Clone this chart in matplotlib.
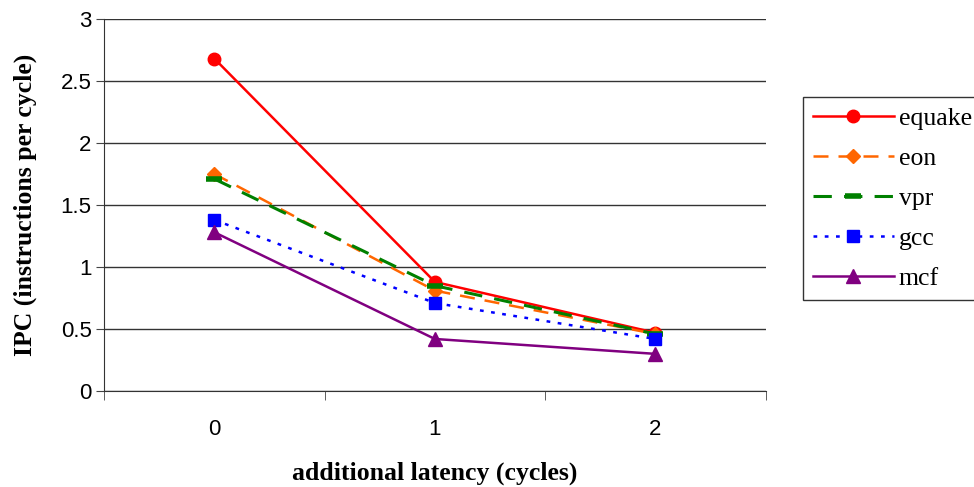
import matplotlib.pyplot as plt

latency = [0, 1, 2]
equake = [2.68, 0.88, 0.47]
eon = [1.75, 0.81, 0.46]
vpr = [1.71, 0.85, 0.46]
gcc = [1.38, 0.71, 0.42]
mcf = [1.28, 0.42, 0.30]

fig = plt.figure(figsize=(9.74, 4.87), dpi=100)
ax = fig.add_axes([0.107, 0.197, 0.679, 0.764])

ax.plot(latency, equake, color="red", lw=1.8, marker="o", ms=9, label="equake")
ax.plot(latency, eon, color="#ff6600", lw=1.8, ls=(0, (6, 4)), marker="D", ms=7, label="eon")
ax.plot(latency, vpr, color="green", lw=2.2, ls=(0, (6, 4)), marker="_", ms=11, mew=4, label="vpr")
ax.plot(latency, gcc, color="blue", lw=1.8, ls=(0, (1.5, 3)), marker="s", ms=9, label="gcc")
ax.plot(latency, mcf, color="purple", lw=1.8, marker="^", ms=10, label="mcf")

ax.set_xlim(-0.5, 2.5)
ax.set_ylim(0, 3)
ax.set_yticks([0, 0.5, 1, 1.5, 2, 2.5, 3])
ax.set_yticklabels(["0", "0.5", "1", "1.5", "2", "2.5", "3"])
ax.set_xticks(latency)
ax.set_xticks([-0.5, 0.5, 1.5, 2.5], minor=True)
ax.tick_params(axis="x", which="major", length=0, pad=20, labelsize=16)
ax.tick_params(axis="x", which="minor", length=6.5, color="#444444")
ax.tick_params(axis="y", length=6, pad=3, labelsize=16, color="#444444")
for lbl in ax.get_xticklabels() + ax.get_yticklabels():
    lbl.set_family("Liberation Sans")

ax.grid(axis="y", color="#333333", lw=1)
ax.set_axisbelow(True)
ax.spines["top"].set_visible(False)
ax.spines["right"].set_visible(False)
ax.spines["left"].set_color("#333333")
ax.spines["bottom"].set_color("#333333")

ax.set_xlabel("additional latency (cycles)", family="Liberation Serif", fontsize=18.5,
              fontweight="bold", labelpad=16)
ax.set_ylabel("IPC (instructions per cycle)", family="Liberation Serif", fontsize=18.5,
              fontweight="bold", labelpad=17)

leg = fig.legend(loc="upper left", bbox_to_anchor=(0.824, 0.801), frameon=True,
                 fancybox=False, edgecolor="black",
                 prop={"family": "Liberation Serif", "size": 18.5},
                 handlelength=3.15, labelspacing=0.66, borderpad=0.4,
                 handletextpad=0.2, borderaxespad=0)
leg.get_frame().set_linewidth(1)

fig.savefig("out.png", dpi=100)
